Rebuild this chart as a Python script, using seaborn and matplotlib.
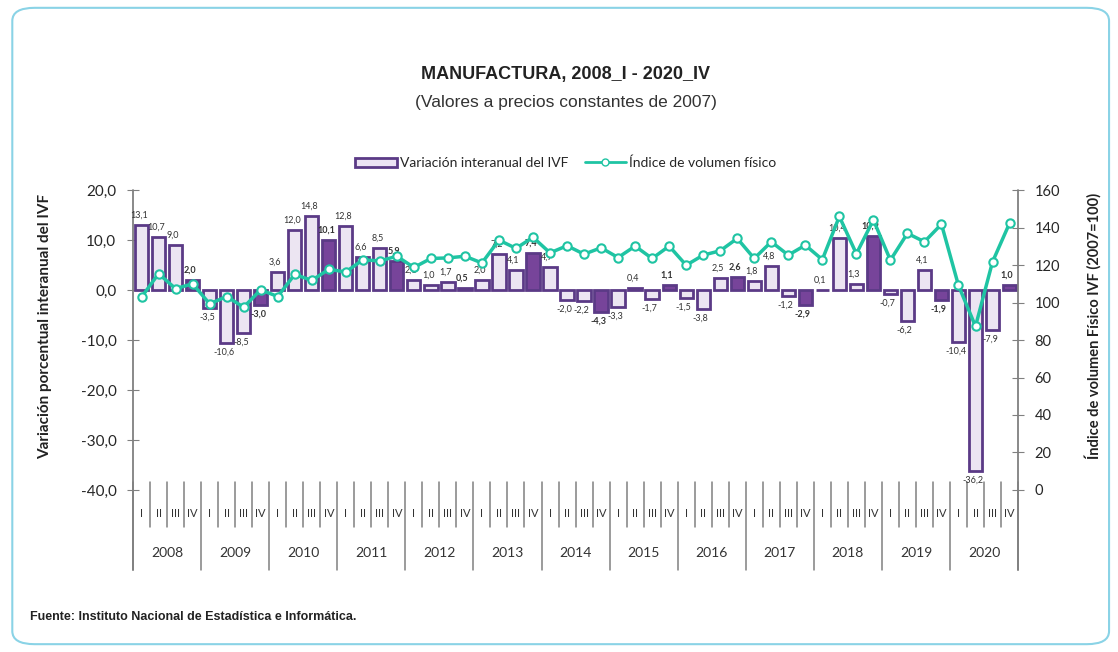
import matplotlib
matplotlib.use("Agg")
import matplotlib.pyplot as plt
from matplotlib.patches import FancyBboxPatch, Patch
from matplotlib.lines import Line2D
import pandas as pd
import seaborn as sns

# datos
anios = [str(a) for a in range(2008, 2021)]
trimestres = ["I", "II", "III", "IV"]

variacion = [
    13.1, 10.7, 9.0, 2.0,      # 2008
    -3.5, -10.6, -8.5, -3.0,   # 2009
    3.6, 12.0, 14.8, 10.1,     # 2010
    12.8, 6.6, 8.5, 5.9,       # 2011
    2.1, 1.0, 1.7, 0.5,        # 2012
    2.0, 7.2, 4.1, 7.4,        # 2013
    4.7, -2.0, -2.2, -4.3,     # 2014
    -3.3, 0.4, -1.7, 1.1,      # 2015
    -1.5, -3.8, 2.5, 2.6,      # 2016
    1.8, 4.8, -1.2, -2.9,      # 2017
    0.1, 10.4, 1.3, 10.9,      # 2018
    -0.7, -6.2, 4.1, -1.9,     # 2019
    -10.4, -36.2, -7.9, 1.0,   # 2020
]

ivf = [
    102.9, 115.4, 107.4, 110.0,
    99.3, 103.2, 97.5, 106.8,
    103.2, 115.0, 111.8, 117.7,
    116.3, 122.8, 122.2, 124.7,
    118.7, 123.5, 123.8, 124.7,
    121.1, 133.3, 128.9, 134.8,
    126.5, 130.3, 125.8, 129.2,
    124.0, 130.1, 123.5, 130.1,
    119.9, 125.3, 127.6, 134.2,
    123.5, 132.4, 125.3, 130.6,
    122.9, 145.9, 126.0, 144.1,
    122.6, 136.9, 132.4, 141.8,
    109.1, 87.3, 121.7, 142.3,
]

df = pd.DataFrame({
    "pos": range(len(variacion)),
    "variacion": variacion,
    "ivf": ivf,
    "trimestre": trimestres * len(anios),
})
df["tipo"] = ["IV" if t == "IV" else "otro" for t in df["trimestre"]]

sns.set_style("white")
plt.rcParams["font.family"] = ["Lato", "DejaVu Sans"]

color_borde = "#5b3a86"
color_claro = "#ece3f4"
color_oscuro = "#7a36a8"
color_linea = "#1fc4a3"
gris = "#808080"

fig = plt.figure(figsize=(11.18, 6.52), dpi=100)
ax = fig.add_axes([0.119, 0.2485, 0.7916, 0.46])

sns.barplot(
    data=df, x="pos", y="variacion", hue="tipo", dodge=False,
    palette={"otro": color_claro, "IV": color_oscuro},
    edgecolor=color_borde, linewidth=2, width=0.78, legend=False, ax=ax,
)

# etiquetas de las barras
for i, v in enumerate(variacion):
    txt = f"{v:.1f}".replace(".", ",")
    negrita = trimestres[i % 4] == "IV"
    off = 1.0 if v >= 0 else -1.0
    ax.text(i - 0.15, v + off, txt, ha="center", va="bottom" if v >= 0 else "top",
            fontsize=6.5, color="#333333", fontweight="bold" if negrita else "normal")

ax.set_ylim(-40, 20)
ax.set_yticks(range(-40, 21, 10))
ax.set_yticklabels([f"{t:.1f}".replace(".", ",") for t in range(-40, 21, 10)], fontsize=11)
ax.set_xlim(-0.5, len(variacion) - 0.5)
ax.set_xticks([])
ax.set_xlabel("")
ax.set_ylabel("")
ax.tick_params(axis="y", direction="inout", length=8, color=gris, left=True, pad=8)
for s in ["top", "bottom", "right", "left"]:
    ax.spines[s].set_visible(False)

ax2 = ax.twinx()
sns.lineplot(
    data=df, x="pos", y="ivf", ax=ax2, color=color_linea, linewidth=2.5,
    marker="o", markersize=6, markerfacecolor="white", markeredgecolor=color_linea,
    markeredgewidth=1.5,
)
ax2.set_ylim(0, 160)
ax2.set_yticks(range(0, 161, 20))
ax2.set_yticklabels([str(t) for t in range(0, 161, 20)], fontsize=10.5)
ax2.set_ylabel("")
ax2.tick_params(axis="y", direction="inout", length=8, color=gris, right=True, pad=8)
ax2.set_xlim(-0.5, len(variacion) - 0.5)
ax2.set_xlabel("")
for s in ["top", "bottom", "right", "left"]:
    ax2.spines[s].set_visible(False)

fig.text(0.040, 0.50, "Variación porcentual interanual del IVF", rotation=90,
         ha="center", va="center", fontsize=11, fontweight="bold", color="#222222")
fig.text(0.978, 0.50, "Índice de volumen Físico IVF (2007=100)", rotation=90,
         ha="center", va="center", fontsize=10.5, fontweight="bold", color="#222222")

# ejes verticales extendidos hasta el eje de categorías
trans = ax.get_xaxis_transform()
ax.plot([-0.5, -0.5], [1.0, -0.267], transform=trans, color=gris, lw=1.3, clip_on=False)
ax.plot([51.5, 51.5], [1.0, -0.267], transform=trans, color=gris, lw=1.3, clip_on=False)

# eje de categorías con dos niveles
n = len(variacion)
for k in range(n + 1):
    b = k - 0.5
    bajo = -0.267 if k % 4 == 0 else -0.125
    ax.plot([b, b], [0.027, bajo], transform=trans, color=gris, lw=1.1, clip_on=False)
for k in range(n):
    ax.text(k, -0.077, trimestres[k % 4], transform=trans, ha="center", va="center",
            fontsize=8, color="#333333")
for j, a in enumerate(anios):
    ax.text(4 * j + 1.5, -0.21, a, transform=trans, ha="center", va="center",
            fontsize=10, color="#333333")

# títulos
fuente_tit = ["Liberation Sans Narrow", "Liberation Sans", "DejaVu Sans"]
fig.text(0.506, 0.885, "MANUFACTURA, 2008_I - 2020_IV", ha="center", va="center",
         fontsize=13, fontweight="bold", family=fuente_tit, color="#222222")
fig.text(0.506, 0.843, "(Valores a precios constantes de 2007)", ha="center", va="center",
         fontsize=12.5, family=fuente_tit, color="#333333")

handles = [
    Patch(facecolor=color_claro, edgecolor=color_borde, linewidth=2),
    Line2D([0], [0], color=color_linea, lw=2, marker="o", markersize=5,
           markerfacecolor="white", markeredgecolor=color_linea),
]
fig.legend(handles, ["Variación interanual del IVF", "Índice de volumen físico"],
           loc="center", bbox_to_anchor=(0.506, 0.75), ncol=2, frameon=False,
           fontsize=10, handlelength=3, columnspacing=1.2, handletextpad=0.2)

fig.text(0.027, 0.049, "Fuente: Instituto Nacional de Estadística e Informática.",
         fontsize=9, fontweight="bold", family=fuente_tit, color="#222222")

marco = FancyBboxPatch((0.011, 0.012), 0.981, 0.976, boxstyle="round,pad=0,rounding_size=0.02",
                       transform=fig.transFigure, facecolor="none", edgecolor="#8ad3e6", lw=1.5)
fig.patches.append(marco)

plt.savefig("out.png", dpi=100)
